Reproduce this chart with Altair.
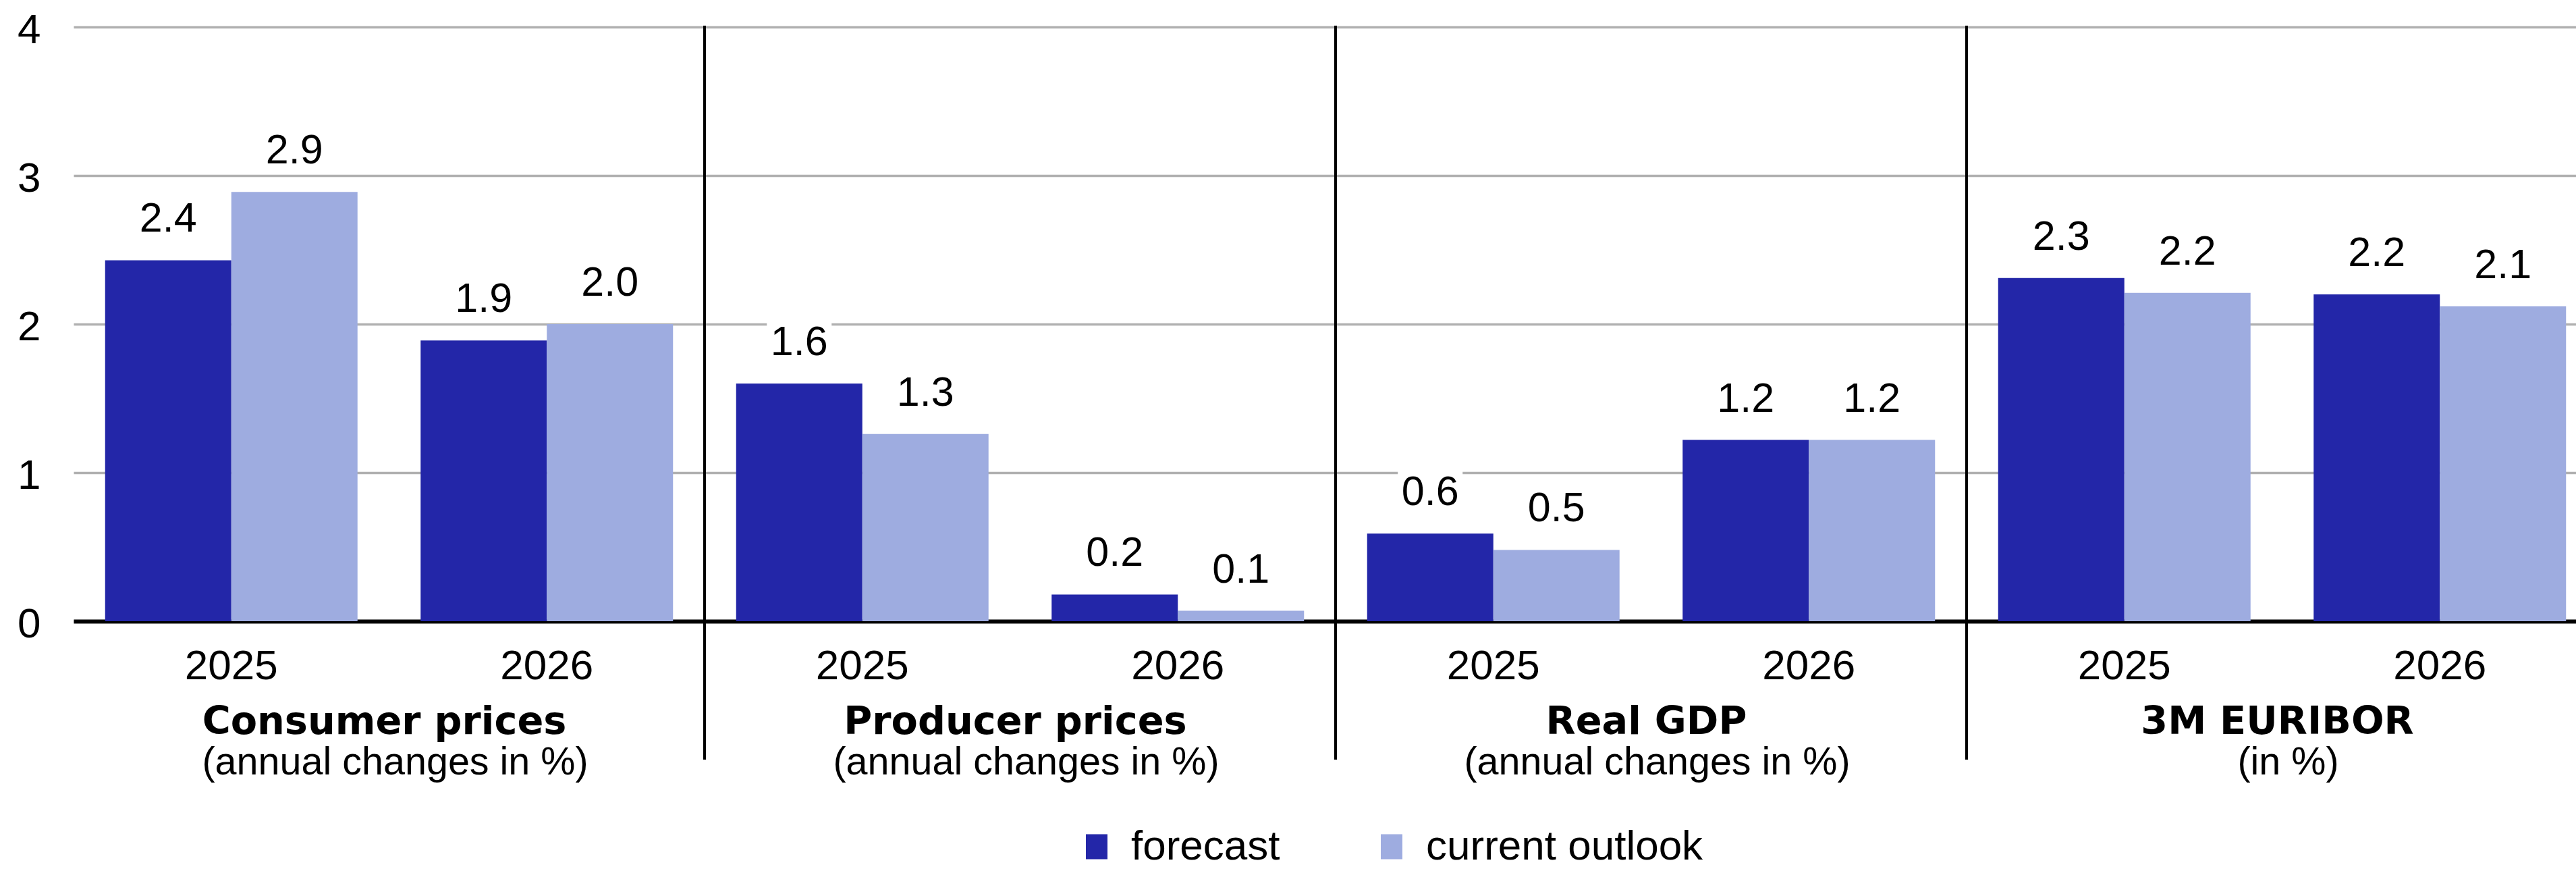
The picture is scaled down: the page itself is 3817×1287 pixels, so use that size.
import altair as alt
import pandas as pd

# ---- data ----
groups = ["Consumer prices", "Producer prices", "Real GDP", "3M EURIBOR"]
subtitles = ["(annual changes in %)", "(annual changes in %)", "(annual changes in %)", "(in %)"]
years = ["2025", "2026"]
series = ["forecast", "current outlook"]
forecast = [2.43, 1.89, 1.60, 0.18, 0.59, 1.22, 2.31, 2.20]
current_outlook = [2.89, 2.00, 1.26, 0.07, 0.48, 1.22, 2.21, 2.12]
y_ticks = [0, 1, 2, 3, 4]
colors = ["#2326a8", "#9eace0"]

keys = [f"{g}|{y}" for g in groups for y in years]
rows = []
for i, k in enumerate(keys):
    rows.append({"key": k, "series": series[0], "value": forecast[i]})
    rows.append({"key": k, "series": series[1], "value": current_outlook[i]})
bars_df = pd.DataFrame(rows)

titles_df = pd.DataFrame({
    "key": [f"{g}|{years[1]}" for g in groups],
    "title": groups,
    "subtitle": subtitles,
})
div_df = pd.DataFrame({"key": [f"{g}|{years[0]}" for g in groups[1:]]})

FONT = "Liberation Sans"

x_scale = alt.Scale(domain=keys, range=[0, 3740], paddingInner=0, paddingOuter=0)
xo_scale = alt.Scale(domain=series, paddingInner=0, paddingOuter=0.25)
y_scale = alt.Scale(domain=[0, 4], nice=False)

x_main = alt.X(
    "key:N",
    scale=x_scale,
    title=None,
    axis=alt.Axis(labelExpr="split(datum.label, '|')[1]"),
)
y_main = alt.Y(
    "value:Q",
    scale=y_scale,
    stack=False,
    title=None,
    axis=alt.Axis(values=y_ticks, format="d"),
)
xo = alt.XOffset("series:N", scale=xo_scale)

bars = alt.Chart(bars_df).mark_bar().encode(
    x=x_main,
    xOffset=xo,
    y=y_main,
    color=alt.Color(
        "series:N",
        scale=alt.Scale(domain=series, range=colors),
        legend=alt.Legend(
            orient="none",
            legendX=1485,
            legendY=1183,
            direction="horizontal",
            title=None,
            symbolType="M-0.865,-1H0.865V1H-0.865Z",
            symbolSize=1369,
            symbolStrokeWidth=0,
            symbolOpacity=1,
            labelFont=FONT,
            labelFontSize=62,
            labelColor="black",
            labelOffset=20,
            columnPadding=134,
            labelLimit=1000,
            padding=0,
        ),
    ),
)

boxes = alt.Chart(bars_df).mark_bar(
    color="white", size=96, yOffset=-29, y2Offset=-98
).encode(
    x=alt.X("key:N", title=None),
    xOffset=xo,
    y=alt.Y("value:Q", stack=False, title=None),
    y2=alt.Y2("value"),
)

labels = alt.Chart(bars_df).mark_text(
    font=FONT, fontSize=61, baseline="alphabetic", align="center", dy=-42, color="black"
).encode(
    x=alt.X("key:N", title=None),
    xOffset=xo,
    y=alt.Y("value:Q", stack=False, title=None),
    text=alt.Text("value:Q", format=".1f"),
)

titles = alt.Chart(titles_df).mark_text(
    font="DejaVu Sans", fontWeight="bold", fontSize=57.3, baseline="alphabetic",
    align="center", dx=-7, color="black"
).encode(
    x=alt.X("key:N", bandPosition=0, title=None),
    y=alt.value(1047),
    text="title:N",
)

subs = alt.Chart(titles_df).mark_text(
    font=FONT, fontSize=57.5, baseline="alphabetic", align="center", dx=9, color="black"
).encode(
    x=alt.X("key:N", bandPosition=0, title=None),
    y=alt.value(1107),
    text="subtitle:N",
)

dividers = alt.Chart(div_df).mark_rule(color="black", strokeWidth=4).encode(
    x=alt.X("key:N", bandPosition=0, title=None),
    y=alt.value(-2),
    y2=alt.value(1085),
)

chart = alt.layer(bars, boxes, labels, titles, subs, dividers).properties(
    width=3708,
    height=880,
    padding={"left": 109, "top": 40, "right": 0, "bottom": 367},
    autosize=alt.AutoSizeParams(type="none"),
    background="white",
).configure_view(
    strokeWidth=0
).configure_axisX(
    labelFont=FONT,
    labelFontSize=62,
    labelColor="black",
    labelPadding=36,
    labelAngle=0,
    labelLimit=500,
    ticks=False,
    domainColor="black",
    domainWidth=6,
    grid=False,
    zindex=1,
).configure_axisY(
    labelFont=FONT,
    labelFontSize=62,
    labelColor="black",
    labelPadding=49,
    labelBaseline="middle",
    labelOffset=4,
    ticks=False,
    domain=False,
    grid=True,
    gridColor="#b0b0b0",
    gridWidth=3.5,
    zindex=0,
)

chart.save("out.html", embed_options={"renderer": "svg", "actions": False})
